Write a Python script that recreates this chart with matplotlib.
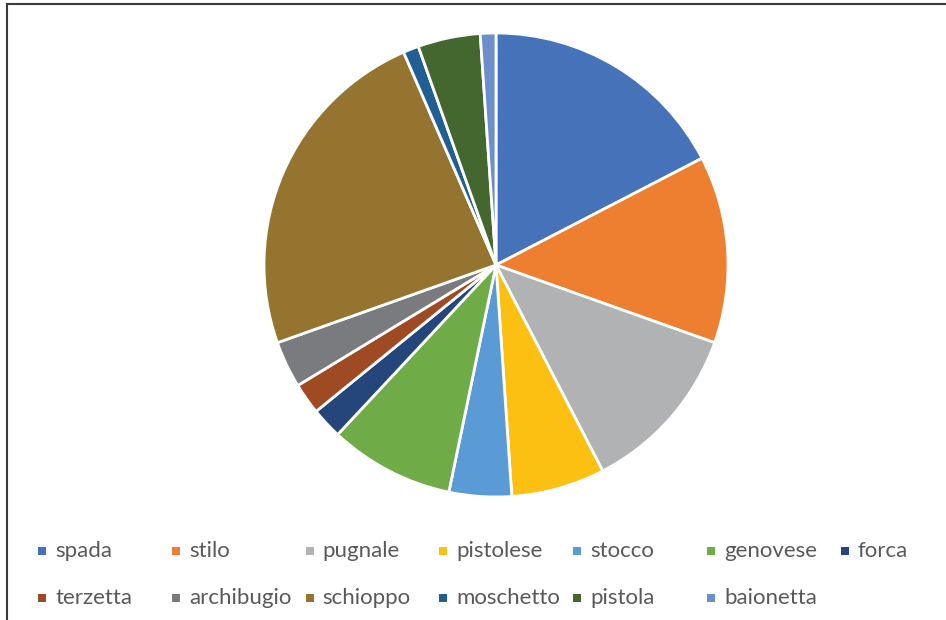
import matplotlib
matplotlib.use('Agg')
import matplotlib.pyplot as plt
from matplotlib.patches import Rectangle
from matplotlib.lines import Line2D

# Weapon counts
labels = ['spada', 'stilo', 'pugnale', 'pistolese', 'stocco', 'genovese', 'forca',
          'terzetta', 'archibugio', 'schioppo', 'moschetto', 'pistola', 'baionetta']
counts = [16, 12, 11, 6, 4, 8, 2, 2, 3, 22, 1, 4, 1]
colors = ['#4672BA', '#EE7F31', '#B1B2B4', '#FCC012', '#5B9BD5', '#6FAC47', '#24467A',
          '#9E4A22', '#7A7B7E', '#94742E', '#215E93', '#43672F', '#6C8FCB']

W, H = 946, 620
fig = plt.figure(figsize=(W / 100, H / 100), dpi=100)
fig.patch.set_facecolor('white')

# Pie axes: centre (496, 265) px, radius 232 px
cx, cy, r = 496, 265, 232
ax = fig.add_axes([(cx - r) / W, (H - cy - r) / H, 2 * r / W, 2 * r / H])
ax.pie(counts, colors=colors, startangle=90, counterclock=False, radius=1,
       wedgeprops=dict(edgecolor='white', linewidth=2.0))
ax.set_xlim(-1, 1)
ax.set_ylim(-1, 1)
ax.axis('off')

# Frame lines on the left and top
fig.add_artist(Line2D([6.5 / W, 6.5 / W], [0, 1 - 4 / H], transform=fig.transFigure,
                      color='#3a3a3a', linewidth=1.5))
fig.add_artist(Line2D([6.5 / W, 1], [1 - 4 / H, 1 - 4 / H], transform=fig.transFigure,
                      color='#3a3a3a', linewidth=1.5))

# Legend, 7 uniform columns on two rows
col_x0, col_step = 42, 133.8
row_y = [551, 598]
sq = 8
for i, (lab, c) in enumerate(zip(labels, colors)):
    col, row = i % 7, i // 7
    x = col_x0 + col * col_step
    y = row_y[row]
    fig.add_artist(Rectangle(((x - sq / 2) / W, (H - y - sq / 2) / H), sq / W, sq / H,
                             transform=fig.transFigure, facecolor=c, edgecolor='none'))
    fig.text((x + 13) / W, (H - y) / H, lab, ha='left', va='center',
             fontsize=16, color='#595959', family='Lato')

fig.savefig('out.png', dpi=100)
